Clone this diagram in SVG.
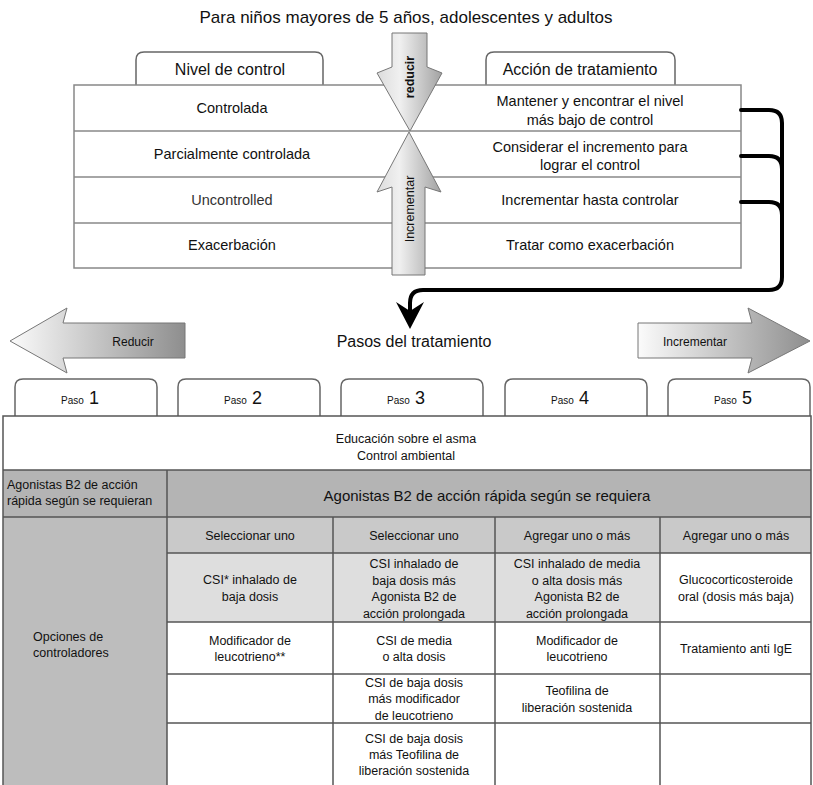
<svg xmlns="http://www.w3.org/2000/svg" width="813" height="785" viewBox="0 0 813 785">
<defs>
<linearGradient id="gv" x1="0" y1="0" x2="1" y2="0">
<stop offset="0" stop-color="#dcdcdc"/>
<stop offset="0.35" stop-color="#f0f0f0"/>
<stop offset="1" stop-color="#a2a2a2"/>
</linearGradient>
<linearGradient id="gh" x1="0" y1="0" x2="1" y2="0">
<stop offset="0" stop-color="#fbfbfb"/>
<stop offset="1" stop-color="#8e8e8e"/>
</linearGradient>
<style>
text{font-family:"Liberation Sans",Arial,sans-serif;fill:#111;}
.t{font-size:14.5px;text-anchor:middle;}
.tab{fill:#fff;stroke:#666;stroke-width:1.5;}
.tabt{font-size:16px;text-anchor:middle;}
.ln{stroke:#888;stroke-width:1.5;fill:none;}
.g{stroke:#555;stroke-width:1.5;fill:none;}
.c{font-size:12.5px;text-anchor:middle;}
.arr{stroke:#777;stroke-width:1;}
.conn{stroke:#000;stroke-width:4;fill:none;stroke-linecap:round;}
</style>
</defs>
<rect width="813" height="785" fill="#fff"/>
<text id="title" x="406" y="23" style="font-size:17px;text-anchor:middle">Para niños mayores de 5 años, adolescentes y adultos</text>

<g id="upper-table">
<path class="tab" d="M136,85 V60 Q136,52 144,52 H315 Q323,52 323,60 V85"/>
<text class="tabt" x="230" y="75">Nivel de control</text>
<path class="tab" d="M486,85 V60 Q486,52 494,52 H667 Q675,52 675,60 V85"/>
<text class="tabt" x="580" y="75">Acción de tratamiento</text>
<rect class="ln" x="74" y="85" width="667" height="183"/>
<line class="ln" x1="74" y1="131" x2="741" y2="131"/>
<line class="ln" x1="74" y1="177" x2="741" y2="177"/>
<line class="ln" x1="74" y1="223" x2="741" y2="223"/>
</g>
<g id="row-controlada"><text class="t" x="232" y="113">Controlada</text>
<text class="t" x="590" y="106">Mantener y encontrar el nivel</text><text class="t" x="590" y="125">más bajo de control</text></g>
<g id="row-parcial"><text class="t" x="232" y="159">Parcialmente controlada</text>
<text class="t" x="590" y="152">Considerar el incremento para</text><text class="t" x="590" y="170">lograr el control</text></g>
<g id="row-uncontrolled"><text class="t" x="232" y="205" style="fill:#333">Uncontrolled</text>
<text class="t" x="590" y="205">Incrementar hasta controlar</text></g>
<g id="row-exacerbacion"><text class="t" x="232" y="250">Exacerbación</text>
<text class="t" x="590" y="250">Tratar como exacerbación</text></g>

<g id="arrow-reducir">
<polygon class="arr" fill="url(#gv)" points="392,33 427,33 427,67 442,73 410,131 377,73 392,67"/>
<text transform="translate(414,77) rotate(-90)" style="font-size:12.5px;font-weight:bold;text-anchor:middle">reducir</text>
</g>
<g id="arrow-incrementar">
<polygon class="arr" fill="url(#gv)" points="409,132 441,192 425,187 425,275 392,275 392,187 377,192"/>
<text transform="translate(414,209) rotate(-90)" style="font-size:12.5px;text-anchor:middle">Incrementar</text>
</g>

<g id="connectors">
<path class="conn" d="M741,110 H769 Q782,110 782,123 V277 Q782,290 769,290 H423 Q410,290 410,303 V312"/>
<path class="conn" d="M741,156 H769 Q782,156 782,169"/>
<path class="conn" d="M741,202 H769 Q782,202 782,215"/>
<polygon fill="#000" points="410,329 396,302 410,311 424,302"/>
</g>

<g id="steps-header">
<polygon class="arr" fill="url(#gh)" points="10,341 67,308 63,323 185,323 185,358 63,358 67,373"/>
<text x="133" y="346" style="font-size:12px;text-anchor:middle">Reducir</text>
<text x="414" y="347" style="font-size:16px;text-anchor:middle">Pasos del tratamiento</text>
<polygon class="arr" fill="url(#gh)" points="638,323 752,323 748,308 810,341 748,373 752,358 638,358"/>
<text x="695" y="346" style="font-size:12px;text-anchor:middle">Incrementar</text>
</g>

<g id="paso-1"><path class="tab" d="M15,416 V387 Q15,379 23,379 H149 Q157,379 157,387 V416"/><text x="80" y="404" text-anchor="middle"><tspan style="font-size:10px">Paso</tspan><tspan dx="5" style="font-size:18px">1</tspan></text></g>
<g id="paso-2"><path class="tab" d="M178,416 V387 Q178,379 186,379 H312 Q320,379 320,387 V416"/><text x="243" y="404" text-anchor="middle"><tspan style="font-size:10px">Paso</tspan><tspan dx="5" style="font-size:18px">2</tspan></text></g>
<g id="paso-3"><path class="tab" d="M341,416 V387 Q341,379 349,379 H475 Q483,379 483,387 V416"/><text x="406" y="404" text-anchor="middle"><tspan style="font-size:10px">Paso</tspan><tspan dx="5" style="font-size:18px">3</tspan></text></g>
<g id="paso-4"><path class="tab" d="M505,416 V387 Q505,379 513,379 H639 Q647,379 647,387 V416"/><text x="570" y="404" text-anchor="middle"><tspan style="font-size:10px">Paso</tspan><tspan dx="5" style="font-size:18px">4</tspan></text></g>
<g id="paso-5"><path class="tab" d="M668,416 V387 Q668,379 676,379 H802 Q810,379 810,387 V416"/><text x="733" y="404" text-anchor="middle"><tspan style="font-size:10px">Paso</tspan><tspan dx="5" style="font-size:18px">5</tspan></text></g>

<g id="lower-table">
<rect x="3" y="470" width="808" height="47" fill="#b4b4b4"/>
<rect x="3" y="517" width="164" height="268" fill="#bdbdbd"/>
<rect x="167" y="517" width="644" height="36" fill="#c9c9c9"/>
<rect x="167" y="553" width="493" height="69" fill="#dedede"/>
<rect class="g" x="3" y="416" width="808" height="372"/>
<line class="g" x1="3" y1="470" x2="811" y2="470"/>
<line class="g" x1="3" y1="517" x2="811" y2="517"/>
<line class="g" x1="167" y1="470" x2="167" y2="785"/>
<line class="g" x1="333" y1="517" x2="333" y2="785"/>
<line class="g" x1="495" y1="517" x2="495" y2="785"/>
<line class="g" x1="660" y1="517" x2="660" y2="785"/>
<line class="g" x1="167" y1="553" x2="811" y2="553"/>
<line class="g" x1="167" y1="622" x2="811" y2="622"/>
<line class="g" x1="167" y1="674" x2="811" y2="674"/>
<line class="g" x1="167" y1="723" x2="811" y2="723"/>
</g>
<g id="educacion"><text class="c" x="406" y="443">Educación sobre el asma</text><text class="c" x="406" y="460">Control ambiental</text></g>
<g id="agonistas"><text x="7" y="489" style="font-size:12.5px">Agonistas B2 de acción</text><text x="7" y="505" style="font-size:12.5px">rápida según se requieran</text>
<text x="487" y="501" style="font-size:15px;text-anchor:middle">Agonistas B2 de acción rápida según se requiera</text></g>
<g id="opciones"><text x="33" y="641" style="font-size:12.5px">Opciones de</text><text x="33" y="657" style="font-size:12.5px">controladores</text></g>
<g id="col-paso2">
<text class="c" x="250" y="540">Seleccionar uno</text>
<text class="c" x="250" y="583.5">CSI* inhalado de</text><text class="c" x="250" y="600.5">baja dosis</text>
<text class="c" x="250" y="644.5">Modificador de</text><text class="c" x="250" y="660.5">leucotrieno**</text>
</g>
<g id="col-paso3">
<text class="c" x="414" y="540">Seleccionar uno</text>
<text class="c" x="414" y="568">CSI inhalado de</text><text class="c" x="414" y="584.5">baja dosis más</text><text class="c" x="414" y="601">Agonista B2 de</text><text class="c" x="414" y="617.5">acción prolongada</text>
<text class="c" x="414" y="644.5">CSI de media</text><text class="c" x="414" y="660.5">o alta dosis</text>
<text class="c" x="414" y="686.5">CSI de baja dosis</text><text class="c" x="414" y="703">más modificador</text><text class="c" x="414" y="719.5">de leucotrieno</text>
<text class="c" x="414" y="742.5">CSI de baja dosis</text><text class="c" x="414" y="758.5">más Teofilina de</text><text class="c" x="414" y="774.5">liberación sostenida</text>
</g>
<g id="col-paso4">
<text class="c" x="577" y="540">Agregar uno o más</text>
<text class="c" x="577" y="568">CSI inhalado de media</text><text class="c" x="577" y="584.5">o alta dosis más</text><text class="c" x="577" y="601">Agonista B2 de</text><text class="c" x="577" y="617.5">acción prolongada</text>
<text class="c" x="577" y="644.5">Modificador de</text><text class="c" x="577" y="660.5">leucotrieno</text>
<text class="c" x="577" y="694.5">Teofilina de</text><text class="c" x="577" y="711.5">liberación sostenida</text>
</g>
<g id="col-paso5">
<text class="c" x="736" y="540">Agregar uno o más</text>
<text class="c" x="736" y="583.5">Glucocorticosteroide</text><text class="c" x="736" y="600.5">oral (dosis más baja)</text>
<text class="c" x="736" y="652.5">Tratamiento anti IgE</text>
</g>
</svg>
